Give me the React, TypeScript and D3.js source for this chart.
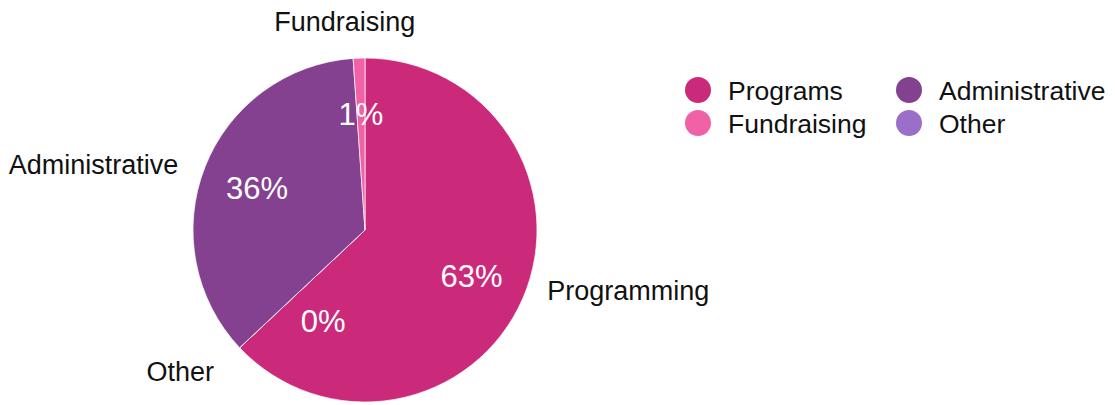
import { useMemo } from "react"
import * as d3 from "d3"

// slices in drawing order, clockwise from 12 o'clock
const categories = ["Programs", "Other", "Administrative", "Fundraising"]
const sliceLabels = ["Programming", "Other", "Administrative", "Fundraising"]
const values = [63.0, 0, 35.9, 1.1]
const colors = ["#cb2a7b", "#9b6fc9", "#84418f", "#f061a6"]

// legend is laid out column by column
const legendOrder = ["Programs", "Fundraising", "Administrative", "Other"]

const WIDTH = 1115
const HEIGHT = 405
const CX = 365
const CY = 230
const RADIUS = 172
const FONT = "'Liberation Sans', Arial, Helvetica, sans-serif"

// small nudges (degrees / px) for the outer and inner labels so they don't collide
const outerNudge: Record<string, { da: number; dr: number }> = {
  Programs: { da: -5, dr: 20 },
  Fundraising: { da: -3, dr: 38 },
  Administrative: { da: -2, dr: 26 },
  Other: { da: 0, dr: 35 },
}
const innerNudge: Record<string, { da: number; r: number }> = {
  Other: { da: -22, r: 100 },
}

export default function App() {
  const arcs = useMemo(() => {
    const pie = d3
      .pie<number>()
      .sort(null)
      .value((d) => d)
    return pie(values)
  }, [])

  const arcGen = d3.arc<d3.PieArcDatum<number>>().innerRadius(0).outerRadius(RADIUS)

  const total = d3.sum(values)

  const polar = (angle: number, r: number) => [Math.sin(angle) * r, -Math.cos(angle) * r]

  return (
    <svg
      width={WIDTH}
      height={HEIGHT}
      style={{ position: "absolute", left: 0, top: 0, fontFamily: FONT }}
    >
      <g transform={`translate(${CX},${CY})`}>
        {arcs.map((a, i) => (
          <path key={categories[i]} d={arcGen(a) || ""} fill={colors[i]} stroke="#fff" strokeWidth={0.7} />
        ))}

        {/* percentage labels inside */}
        {arcs.map((a, i) => {
          const cat = categories[i]
          const mid = (a.startAngle + a.endAngle) / 2
          const nudge = innerNudge[cat]
          const ang = mid + ((nudge?.da || 0) * Math.PI) / 180
          const r = nudge?.r ?? RADIUS * 0.675
          const [x, y] = polar(ang, r)
          return (
            <text
              key={"p" + cat}
              x={x}
              y={y}
              dy="0.36em"
              textAnchor="middle"
              fill="#fff"
              fontSize={31}
            >
              {Math.round((values[i] / total) * 100)}%
            </text>
          )
        })}

        {/* outer labels */}
        {arcs.map((a, i) => {
          const cat = categories[i]
          const n = outerNudge[cat]
          const mid = (a.startAngle + a.endAngle) / 2 + (n.da * Math.PI) / 180
          const s = Math.sin(mid)
          const anchor = Math.abs(s) < 0.25 ? "middle" : s > 0 ? "start" : "end"
          const [x, y] = polar(mid, RADIUS + n.dr)
          return (
            <text
              key={"o" + cat}
              x={anchor === "middle" ? x - 2 : x}
              y={y}
              dy="0.36em"
              textAnchor={anchor}
              fill="#111"
              fontSize={27}
            >
              {sliceLabels[i]}
            </text>
          )
        })}
      </g>

      {/* legend */}
      <g transform="translate(698,90)">
        {legendOrder.map((cat, k) => {
          const col = Math.floor(k / 2)
          const row = k % 2
          const idx = categories.indexOf(cat)
          return (
            <g key={cat} transform={`translate(${col * 211},${row * 33})`}>
              <circle r={13} fill={colors[idx]} />
              <text x={30} y={0} dy="0.36em" fontSize={26.5} fill="#111">
                {cat}
              </text>
            </g>
          )
        })}
      </g>
    </svg>
  )
}
